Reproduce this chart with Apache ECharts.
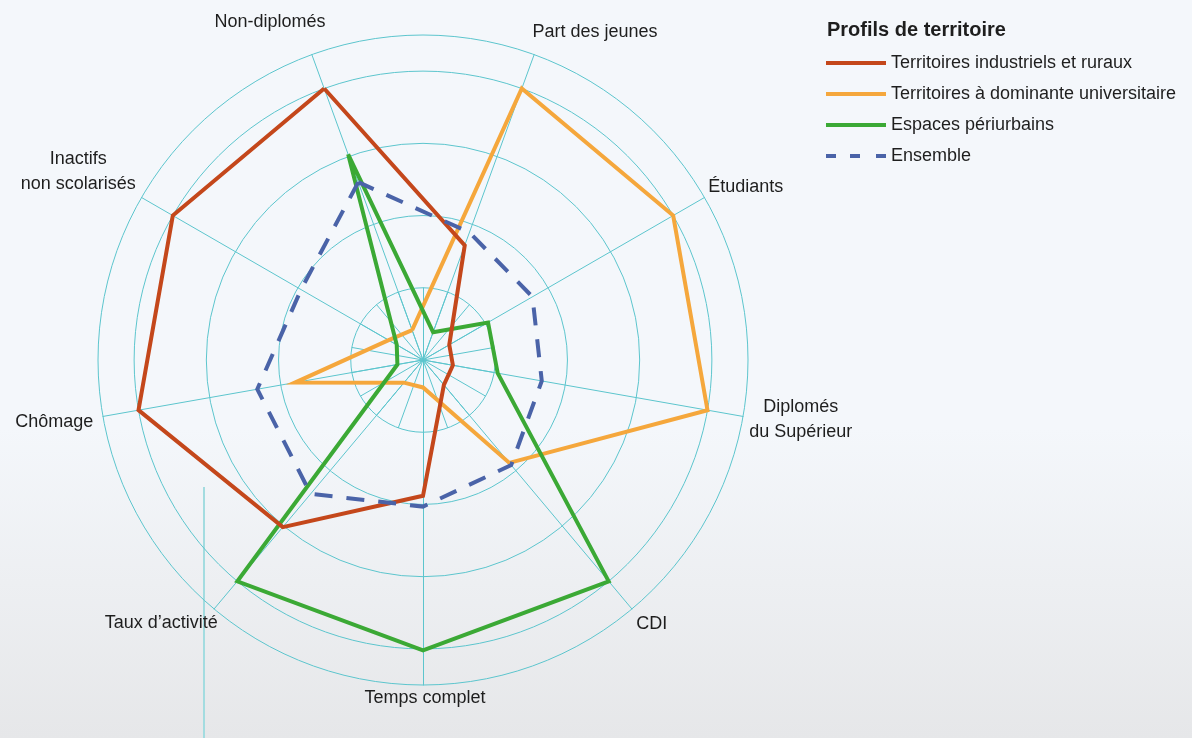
<!DOCTYPE html>
<html><head><meta charset="utf-8">
<script src="https://cdn.jsdelivr.net/npm/echarts@6/dist/echarts.min.js"></script>
<style>
html,body{margin:0;padding:0;width:1192px;height:738px;overflow:hidden;
background:linear-gradient(to bottom,#f4f7fb 0%,#f4f7fb 58%,#e6e7e9 100%);}
#c{width:1192px;height:738px;}
</style>
</head><body><div id="c"></div>
<script>
// ---- data ----
const indicators = ['Non-diplomés', 'Inactifs\nnon scolarisés', 'Chômage', 'Taux d’activité',
  'Temps complet', 'CDI', 'Diplomés\ndu Supérieur', 'Étudiants', 'Part des jeunes'];
const seriesNames = ['Territoires industriels et ruraux', 'Territoires à dominante universitaire',
  'Espaces périurbains', 'Ensemble'];
const industriels = [4.0, 4.0, 4.0, 3.02, 1.88, 0.45, 0.42, 0.42, 1.69];
const universitaires = [0.44, 0.55, 1.8, 0.41, 0.38, 1.86, 4.0, 4.0, 4.0];
const periurbains = [3.03, 0.42, 0.36, 4.0, 4.02, 4.0, 1.05, 1.04, 0.41];
const ensemble = [2.62, 1.95, 2.33, 2.42, 2.03, 1.9, 1.67, 1.75, 1.88];
const legendTitle = 'Profils de territoire';

// ---- layout / style ----
const teal = '#5cc5cd';
const colors = ['#c4471b', '#f5a73c', '#3ba935', '#4a63a8'];
const labelShift = [[-35,-14],[-46,-16],[-29,2],[-40,-1],[2,-7],[7,0],[38,0],[24,0],[54,-4]];
const font = 'Liberation Sans';
const textColor = '#1e1e1e';

const rich = {};
labelShift.forEach((s, i) => {
  const dx = s[0], dy = s[1];
  const pl = Math.max(dx,0)*2, pr = Math.max(-dx,0)*2;
  const pt = Math.max(dy,0)*2, pb = Math.max(-dy,0)*2;
  rich['k' + i] = {padding: [pt, pr, pb, pl], fontSize: 18, fontFamily: font, color: textColor, lineHeight: 25};
  rich['m' + i] = {padding: [0, pr, 0, pl], fontSize: 18, fontFamily: font, color: textColor, lineHeight: 25};
  rich['s' + i] = {fontSize: 2, lineHeight: Math.abs(dy) * 2, color: 'rgba(0,0,0,0)'};
});

const chart = echarts.init(document.getElementById('c'), null, {renderer: 'canvas'});
const splitColors = [];
for (let i = 0; i <= 9; i++) splitColors.push((i === 9 || (i > 0 && i % 2 === 0)) ? teal : 'rgba(0,0,0,0)');

const spokes = [];
for (let i = 0; i < 18; i++) spokes.push({name: '', min: 0, max: 1});

const seriesData = [universitaires, periurbains, industriels, ensemble];
const seriesIdx = [1, 2, 0, 3];

chart.setOption({
  animation: false,
  backgroundColor: 'transparent',
  title: {text: legendTitle, left: 827, top: 20, padding: 0,
    textStyle: {fontFamily: font, fontSize: 20, fontWeight: 'bold', color: textColor}},
  legend: {
    orient: 'vertical', left: 826, top: 53, padding: 0, itemWidth: 60, itemHeight: 4, itemGap: 11,
    itemStyle: {borderWidth: 0},
    textStyle: {fontFamily: font, fontSize: 18, color: textColor, lineHeight: 20},
    selectedMode: false,
    data: seriesNames.map((n, i) => ({name: n,
      icon: i === 3 ? 'path://M0,0H10V4H0ZM24,0H34V4H24ZM50,0H60V4H50Z' : 'path://M0,0H60V4H0Z'}))
  },
  radar: [{
    center: [423, 360], radius: 325, startAngle: 110, splitNumber: 9, shape: 'circle',
    indicator: indicators.map(n => ({name: n, min: 0, max: 4.5})),
    axisLine: {lineStyle: {color: teal, width: 1}},
    splitLine: {lineStyle: {color: splitColors, width: 1}},
    splitArea: {show: false},
    axisTick: {show: false}, axisLabel: {show: false},
    nameGap: 20,
    axisName: {
      align: 'center', verticalAlign: 'middle', color: textColor, fontSize: 18, fontFamily: font, lineHeight: 25,
      rich: rich,
      formatter: function (name) {
        const i = indicators.indexOf(name);
        const lines = name.split('\n');
        if (lines.length === 1) return '{k' + i + '|' + name + '}';
        const dy = labelShift[i][1];
        let body = lines.map(l => '{m' + i + '|' + l + '}').join('\n');
        if (dy < 0) body = body + '\n{s' + i + '| }';
        else if (dy > 0) body = '{s' + i + '| }\n' + body;
        return body;
      }
    }
  }, {
    center: [423, 360], radius: 72, startAngle: 110, splitNumber: 1, shape: 'circle',
    indicator: spokes,
    axisLine: {lineStyle: {color: teal, width: 1}},
    splitLine: {show: false}, splitArea: {show: false},
    axisName: {show: false}, silent: true
  }],
  graphic: [{
    type: 'line', shape: {x1: 204, y1: 487, x2: 204, y2: 738},
    style: {stroke: '#a3dce0', lineWidth: 2}, silent: true, z: 0
  }],
  series: seriesIdx.map((si, k) => ({
    type: 'radar', radarIndex: 0, name: seriesNames[si], symbol: 'none', z: 2 + k,
    itemStyle: {color: colors[si]},
    lineStyle: {color: colors[si], width: 4, type: si === 3 ? [18, 14] : 'solid', join: 'miter', cap: 'butt'},
    data: [{name: seriesNames[si], value: seriesData[k]}]
  }))
});
</script></body></html>
